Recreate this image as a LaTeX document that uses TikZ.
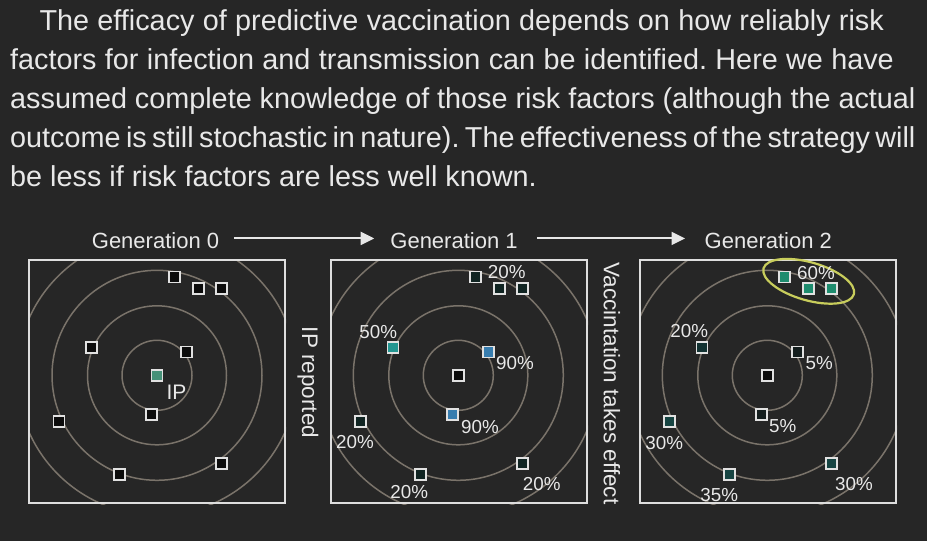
\documentclass[tikz,border=0pt]{standalone}
\usepackage{fontspec}
\setmainfont{Liberation Sans}
\usetikzlibrary{arrows.meta,shapes.geometric}
\frenchspacing
\definecolor{bg}{RGB}{38,38,38}
\definecolor{fg}{RGB}{232,232,232}
\definecolor{boxcol}{RGB}{222,222,222}
\definecolor{ringcol}{RGB}{122,115,106}
\definecolor{sqborder}{RGB}{225,225,225}
\definecolor{hlcol}{RGB}{200,205,92}
\definecolor{sqblack}{RGB}{12,12,12}
\definecolor{ipgreen}{RGB}{70,145,120}
\definecolor{dkteal}{RGB}{16,36,34}
\definecolor{teal50}{RGB}{35,150,145}
\definecolor{blue90}{RGB}{55,125,175}
\definecolor{green60}{RGB}{30,140,110}
\definecolor{dk20}{RGB}{18,50,50}
\definecolor{dk5}{RGB}{20,30,30}
\definecolor{mid30}{RGB}{22,68,66}
\newcommand\pline[2]{\makebox[#1][s]{\spaceskip=0.278em plus 0.5em minus 0.15em\relax #2}}
\begin{document}
\begin{tikzpicture}[x=1pt,y=-1pt,
  txt/.style={text=fg, inner sep=0pt},
  para/.style={txt, anchor=base west, font=\fontsize{28.8}{36}\selectfont},
  gen/.style={txt, anchor=base, font=\fontsize{22}{26}\selectfont},
  side/.style={txt, rotate=-90, font=\fontsize{22.5}{26}\selectfont},
  pct/.style={txt, font=\fontsize{18.8}{22}\selectfont},
  sq/.style={draw=sqborder, line width=1.8pt, minimum size=11pt, inner sep=0pt},
  panelbox/.style={draw=boxcol, line width=1.8pt, minimum width=256pt, minimum height=243pt, inner sep=0pt},
  ring/.style={draw=ringcol, line width=1.5pt},
  flow/.style={draw=fg, line width=2pt, -{Triangle[length=13.5pt,width=13pt]}},
]
\fill[bg] (0,0) rectangle (927,541);
\useasboundingbox (0,0) rectangle (927,541);

% paragraph
\node[para] (l1) at (39.3,30) {\pline{844.4pt}{The efficacy of predictive vaccination depends on how reliably risk}};
\node[para] (l2) at (10,69.1) {\pline{883.7pt}{factors for infection and transmission can be identified. Here we have}};
\node[para] (l3) at (10,108.2) {\pline{905.3pt}{assumed complete knowledge of those risk factors (although the actual}};
\node[para] (l4) at (10,147.3) {\pline{905.3pt}{outcome is still stochastic in nature). The effectiveness of the strategy will}};
\node[para] (l5) at (10,186.4) {be less if risk factors are less well known.};

% generation labels and arrows
\node[gen] (g0) at (155.5,248.3) {Generation 0};
\node[gen] (g1) at (454,248.3) {Generation 1};
\node[gen] (g2) at (768.3,248.3) {Generation 2};
\draw[flow, shorten <=15pt, shorten >=16pt] ([yshift=2pt]g0.east) -- ([yshift=2pt]g1.west);
\draw[flow, shorten <=19.5pt, shorten >=19.5pt] ([yshift=2pt]g1.east) -- ([yshift=2pt]g2.west);

% panel centres
\coordinate (c1) at (157,375.3);
\coordinate (c2) at (458.3,375.3);
\coordinate (c3) at (767.3,375.3);

% rings
\begin{scope}
  \clip (28,259) rectangle (286,504);
  \foreach \r in {35,69.5,105,140} \draw[ring] (c1) circle [radius=\r];
\end{scope}
\begin{scope}
  \clip (330,259) rectangle (588,504);
  \foreach \r in {35,69.5,105,140} \draw[ring] (c2) circle [radius=\r];
\end{scope}
\begin{scope}
  \clip (639,259) rectangle (897,504);
  \foreach \r in {35,69.5,105,140} \draw[ring] (c3) circle [radius=\r];
\end{scope}

% panel boxes
\node[panelbox] (p1) at (157,381.5) {};
\node[panelbox] (p2) at (459,381.5) {};
\node[panelbox] (p3) at (768,381.5) {};

% side labels
\node[side] (iprep) at (308,382.5) {IP reported};
\node[side] (vacc) at (612,383.5) {Vaccintation takes effect};

% highlight ellipse
\node[draw=hlcol, line width=2.2pt, ellipse, minimum width=94pt, minimum height=38pt, inner sep=0pt, rotate=-16] (hl) at (808.7,281.3) {};

% panel 1 squares
\node[sq, fill=sqblack] (a1) at ([shift={(17.5,-98.3)}]c1) {};
\node[sq, fill=sqblack] (b1) at ([shift={(41.2,-87)}]c1) {};
\node[sq, fill=sqblack] (k1) at ([shift={(64.3,-87)}]c1) {};
\node[sq, fill=sqblack] (d1) at ([shift={(-65.3,-28)}]c1) {};
\node[sq, fill=sqblack] (e1) at ([shift={(29.8,-23.3)}]c1) {};
\node[sq, fill=ipgreen] (o1) at (c1) {};
\node[sq, fill=sqblack] (f1) at ([shift={(-5.7,39)}]c1) {};
\node[sq, fill=sqblack] (gg1) at ([shift={(-98,46.3)}]c1) {};
\node[sq, fill=sqblack] (h1) at ([shift={(64.5,88.3)}]c1) {};
\node[sq, fill=sqblack] (i1) at ([shift={(-37.5,99.3)}]c1) {};
\node[txt, font=\fontsize{21}{24}\selectfont] (iplab) at (176.5,392) {IP};

% panel 2 squares
\node[sq, fill=dkteal] (a2) at ([shift={(17.5,-98.3)}]c2) {};
\node[sq, fill=dkteal] (b2) at ([shift={(41.2,-87)}]c2) {};
\node[sq, fill=dkteal] (k2) at ([shift={(64.3,-87)}]c2) {};
\node[sq, fill=teal50] (d2) at ([shift={(-65.3,-28)}]c2) {};
\node[sq, fill=blue90] (e2) at ([shift={(29.8,-23.3)}]c2) {};
\node[sq, fill=sqblack] (o2) at (c2) {};
\node[sq, fill=blue90] (f2) at ([shift={(-5.7,39)}]c2) {};
\node[sq, fill=dkteal] (gg2) at ([shift={(-98,46.3)}]c2) {};
\node[sq, fill=dkteal] (h2) at ([shift={(64.5,88.3)}]c2) {};
\node[sq, fill=dkteal] (i2) at ([shift={(-37.5,99.3)}]c2) {};
\node[pct] (t2a) at (506.7,271.7) {20\%};
\node[pct] (t2d) at (378.3,332.3) {50\%};
\node[pct] (t2e) at (515,363.3) {90\%};
\node[pct] (t2f) at (480,426.7) {90\%};
\node[pct] (t2g) at (355,441.7) {20\%};
\node[pct] (t2i) at (409.3,491.7) {20\%};
\node[pct] (t2h) at (541.7,484) {20\%};

% panel 3 squares
\node[sq, fill=green60] (a3) at ([shift={(17.5,-98.3)}]c3) {};
\node[sq, fill=green60] (b3) at ([shift={(41.2,-87)}]c3) {};
\node[sq, fill=green60] (k3) at ([shift={(64.3,-87)}]c3) {};
\node[sq, fill=dk20] (d3) at ([shift={(-65.3,-28)}]c3) {};
\node[sq, fill=dk5] (e3) at ([shift={(29.8,-23.3)}]c3) {};
\node[sq, fill=sqblack] (o3) at (c3) {};
\node[sq, fill=dk5] (f3) at ([shift={(-5.7,39)}]c3) {};
\node[sq, fill=mid30] (gg3) at ([shift={(-98,46.3)}]c3) {};
\node[sq, fill=mid30] (h3) at ([shift={(64.5,88.3)}]c3) {};
\node[sq, fill=mid30] (i3) at ([shift={(-37.5,99.3)}]c3) {};
\node[pct] (t3a) at (816,272.7) {60\%};
\node[pct] (t3d) at (689.3,331) {20\%};
\node[pct] (t3e) at (819.3,363.3) {5\%};
\node[pct] (t3f) at (782.7,426) {5\%};
\node[pct] (t3g) at (664.3,442.7) {30\%};
\node[pct] (t3i) at (719.3,495) {35\%};
\node[pct] (t3h) at (854,484) {30\%};
\end{tikzpicture}
\end{document}
